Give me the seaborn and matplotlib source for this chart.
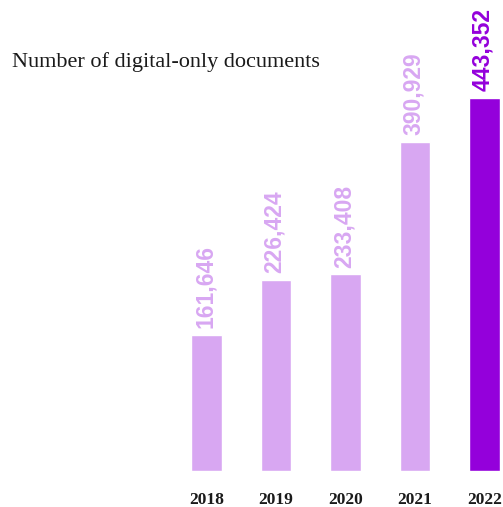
import matplotlib
matplotlib.use("Agg")
import matplotlib.pyplot as plt
import seaborn as sns

years = ["2018", "2019", "2020", "2021", "2022"]
counts = [161646, 226424, 233408, 390929, 443352]
light = "#d8a7f2"
dark = "#9400db"
bar_colors = [light, light, light, light, dark]

sns.set_theme(style="white")
plt.rcParams['font.family'] = ['Liberation Serif', 'DejaVu Serif']

fig = plt.figure(figsize=(5.03, 5.07), dpi=100)
# axes placed in pixel terms: bars bottom at ~471px from top
ax = fig.add_axes([0, 36.3 / 507, 1, 470.7 / 507])

sns.barplot(x=years, y=counts, hue=years, palette=bar_colors,
            legend=False, width=0.446, saturation=1, ax=ax)

px_per_cat = 69.5
ax.set_xlim(-206.5 / px_per_cat, (503 - 206.5) / px_per_cat)
ax.set_ylim(0, 443352 * 470.7 / 372.7)

for i, v in enumerate(counts):
    ax.annotate(f"{v:,}", (i, v), xytext=(-1, 5), textcoords="offset points",
                rotation=90, ha="center", va="bottom",
                fontsize=16.5, fontweight="bold", color=bar_colors[i],
                family=["Liberation Sans", "DejaVu Sans"])

sns.despine(ax=ax, left=True, bottom=True)
ax.set_yticks([])
ax.tick_params(axis="x", length=0, pad=15)
for lab in ax.get_xticklabels():
    lab.set_fontsize(12.5)
    lab.set_fontweight("bold")
    lab.set_color("#1a1a1a")
ax.set_xlabel("")
ax.set_ylabel("")

fig.text(12 / 503, 1 - 62 / 507, "Number of digital-only documents",
         fontsize=16, color="#1a1a1a", ha="left", va="center")

fig.savefig("out.png", dpi=100)
